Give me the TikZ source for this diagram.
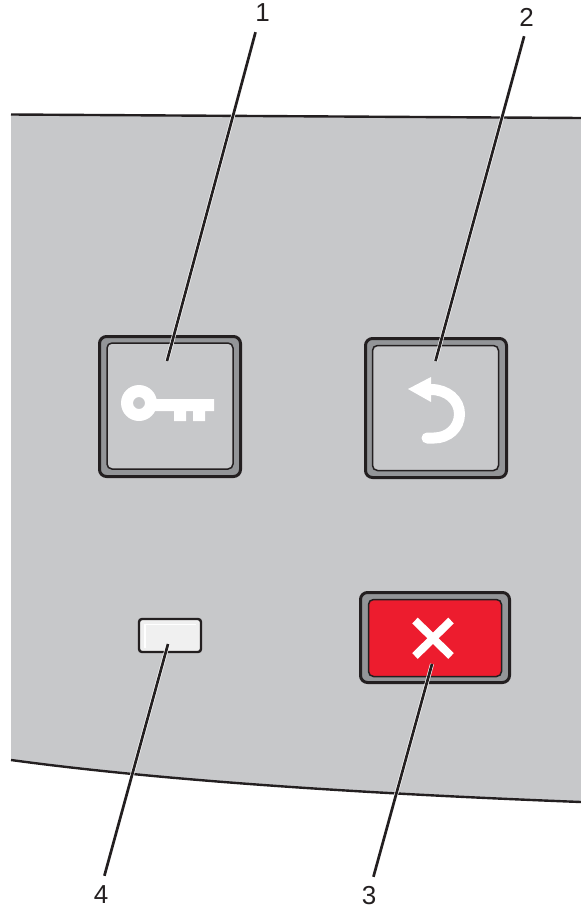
\documentclass[tikz,border=0pt]{standalone}
\usepackage{fontspec}
\setmainfont{Liberation Sans}
\definecolor{panelgray}{HTML}{C7C8CA}
\definecolor{rimgray}{HTML}{939598}
\definecolor{inkblack}{HTML}{231F20}
\definecolor{stopred}{HTML}{ED1C2E}
\begin{document}
\begin{tikzpicture}[
  x=1pt, y=-1pt,
  outerbtn/.style={rectangle, rounded corners=7pt, draw=inkblack, fill=rimgray, line width=3pt},
  innerbtn/.style={rectangle, rounded corners=5pt, draw=inkblack, fill=panelgray, line width=1.5pt},
  redbtn/.style={innerbtn, fill=stopred},
  ledbox/.style={rectangle, rounded corners=3pt, draw=inkblack, fill=white!94!black, line width=2.4pt},
  callout/.style={font=\fontsize{26}{26}\selectfont, text=inkblack, inner sep=0pt, minimum height=38pt},
  leader/.style={draw=inkblack, line width=2.7pt, preaction={draw=white, line width=4pt}},
  edgeline/.style={draw=inkblack, line width=2.4pt},
]
\useasboundingbox (0,0) rectangle (581,913);

%% ---- Panel ----
\fill[panelgray] (11,114.5) -- (581,118) -- (581,802)
  .. controls (400,795) and (180,783) .. (11,760) -- cycle;
\draw[edgeline] (11,114.5) -- (581,118);
\draw[edgeline] (11,760) .. controls (180,783) and (400,795) .. (581,802);

%% ---- Buttons ----
\node[outerbtn, minimum width=141pt, minimum height=140pt] (keyrim)  at (170,406.5) {};
\node[innerbtn, minimum width=126pt, minimum height=126pt] (keybtn)  at (170,406) {};
\node[outerbtn, minimum width=141pt, minimum height=139pt] (backrim) at (436,408) {};
\node[innerbtn, minimum width=126pt, minimum height=125pt] (backbtn) at (435.5,408) {};
\node[outerbtn, minimum width=149pt, minimum height=90pt]  (stoprim) at (435,637.5) {};
\node[redbtn,   minimum width=133pt, minimum height=77pt]  (stopbtn) at (435,638) {};
\node[ledbox,   minimum width=62pt,  minimum height=33pt]  (ledbtn)  at (170,635.5) {};

%% ---- Icons ----
\fill[white, even odd rule] (139,403) circle (18) (139,403) circle (6);
\fill[white] (150,399) -- (214,399) -- (214,411) -- (205,411) -- (205,421) -- (193,421)
  -- (193,411) -- (186,411) -- (186,421) -- (174,421) -- (174,411) -- (150,411) -- cycle;
\fill[white] (408,389) -- (431,377) -- (431,402) -- cycle;
\draw[white, line width=11pt, line cap=round] (428,389.5) -- (431,389.5)
  .. controls (447,389.5) and (459.5,400) .. (459.5,414)
  .. controls (459.5,428) and (448,438) .. (434,438) -- (427,438);
\draw[white, line width=8pt] (415,620.5) -- (451,656);
\draw[white, line width=8pt] (451,620.5) -- (415,656);
\draw[white, line width=1.4pt] (145,648) -- (145,624.5) -- (196,624.5);

%% ---- Labels ----
\node[callout] (lab1) at (262.5,13) {1};
\node[callout] (lab2) at (526.5,17) {2};
\node[callout] (lab3) at (369,896) {3};
\node[callout] (lab4) at (101,895) {4};
\coordinate (tip1) at (167,361);
\coordinate (tip2) at (435.5,361);
\coordinate (tip3) at (432,664);
\coordinate (tip4) at (168,644);

%% ---- Leaders ----
\draw[leader] (lab1.-110) -- (tip1);
\draw[leader] (lab2.-97) -- (tip2);
\draw[leader] (lab3.77) -- (tip3);
\draw[leader] (lab4.80) -- (tip4);

\end{tikzpicture}
\end{document}
